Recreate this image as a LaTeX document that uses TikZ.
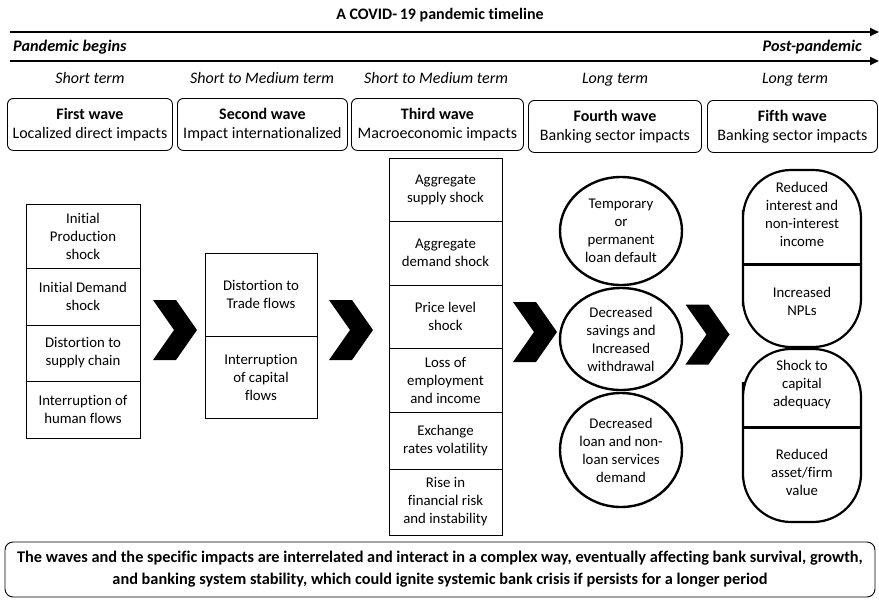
\documentclass[tikz,border=0pt]{standalone}
\usepackage{fontspec}
\setmainfont{Carlito}[RawFeature={-liga;-clig;-calt;-dlig}]
\usetikzlibrary{arrows.meta,shapes.geometric}
\tikzset{
  every node/.style={font=\fontsize{14.8}{18}\selectfont, inner sep=1pt, align=center},
  termlbl/.style={font=\fontsize{16}{19}\selectfont\itshape},
  wavebox/.style={draw, rounded corners=6pt, line width=0.9pt, minimum height=52pt, anchor=north west, inner sep=0pt, font=\fontsize{16}{19}\selectfont},
  cell/.style={draw, line width=0.9pt},
  circ/.style={draw, ellipse, line width=2.4pt, minimum width=122pt, inner sep=0pt},
  tl/.style={line width=1.8pt, -{Triangle[length=9pt,width=8pt]}},
  chevron/.pic={\fill (-22,-30) -- (1,-30) -- (22,0) -- (1,30) -- (-22,30) -- (-1,0) -- cycle;},
  pill/.style={line width=2.2pt, rounded corners=48pt},
  sep/.style={line width=3pt}
}
\begin{document}
\begin{tikzpicture}[x=1pt,y=-1pt]
\useasboundingbox (0,0) rectangle (879,600);
% title and timeline
\node[font=\fontsize{16}{19}\selectfont\bfseries] (title) at (440,15) {A COVID-\,19 pandemic timeline};
\coordinate (a1s) at (10,32); \coordinate (a1e) at (879,32);
\coordinate (a2s) at (10,61); \coordinate (a2e) at (879,61);
\draw[tl] (a1s) -- (a1e);
\draw[tl] (a2s) -- (a2e);
\node[anchor=west, font=\fontsize{16.2}{19}\selectfont\bfseries\itshape] (pb) at (12,47) {Pandemic begins};
\node[anchor=east, font=\fontsize{16.2}{19}\selectfont\bfseries\itshape] (pp) at (863,47) {Post-pandemic};
% terms
\node[termlbl] (t1) at (90,78) {Short term};
\node[termlbl] (t2) at (262,78) {Short to Medium term};
\node[termlbl] (t3) at (436,78) {Short to Medium term};
\node[termlbl] (t4) at (615,80) {Long term};
\node[termlbl] (t5) at (795,80) {Long term};
% wave boxes
\node[wavebox, minimum width=165pt] (w1) at (7,98) {\textbf{First wave}\\Localized direct impacts};
\node[wavebox, minimum width=170pt] (w2) at (177,98) {\textbf{Second wave}\\Impact internationalized};
\node[wavebox, minimum width=172pt] (w3) at (351,98) {\textbf{Third wave}\\Macroeconomic impacts};
\node[wavebox, minimum width=173pt] (w4) at (528,100) {\textbf{Fourth wave}\\Banking sector impacts};
\node[wavebox, minimum width=170pt] (w5) at (707,100) {\textbf{Fifth wave}\\Banking sector impacts};
% column 1
\node[cell, minimum width=114pt, minimum height=64pt] (c11) at (83,236) {Initial\\Production\\shock};
\node[cell, minimum width=114pt, minimum height=57pt] (c12) at (83,296.5) {Initial Demand\\shock};
\node[cell, minimum width=114pt, minimum height=56pt] (c13) at (83,353) {Distortion to\\supply chain};
\node[cell, minimum width=114pt, minimum height=57pt] (c14) at (83,409.5) {Interruption of\\human flows};
% column 2
\node[cell, minimum width=112pt, minimum height=83pt] (c21) at (261,294.5) {Distortion to\\Trade flows};
\node[cell, minimum width=112pt, minimum height=82pt] (c22) at (261,377) {Interruption\\of capital\\flows};
% column 3
\node[cell, minimum width=113pt, minimum height=63pt] (c31) at (445.5,189.5) {Aggregate\\supply shock};
\node[cell, minimum width=113pt, minimum height=64pt] (c32) at (445.5,253) {Aggregate\\demand shock};
\node[cell, minimum width=113pt, minimum height=63pt] (c33) at (445.5,316.5) {Price level\\shock};
\node[cell, minimum width=113pt, minimum height=64pt] (c34) at (445.5,380) {Loss of\\employment\\and income};
\node[cell, minimum width=113pt, minimum height=57pt] (c35) at (445.5,440.5) {Exchange\\rates volatility};
\node[cell, minimum width=113pt, minimum height=66pt] (c36) at (445.5,502) {Rise in\\financial risk\\and instability};
% column 4
\node[circ, minimum height=108pt] (c41) at (621,231) {Temporary\\or\\permanent\\loan default};
\node[circ, minimum height=102pt] (c42) at (621,339) {Decreased\\savings and\\Increased\\withdrawal};
\node[circ, minimum height=114pt] (c43) at (621,450) {Decreased\\loan and non-\\loan services\\demand};
% column 5
\draw[pill] (743,258) -- (743,170) -- (861,170) -- (861,347) -- (743,347) -- cycle;
\draw[sep] (743,264) -- (861,264);
\draw[pill] (743,430) -- (743,349) -- (861,349) -- (861,522) -- (743,522) -- cycle;
\draw[sep] (743,427) -- (861,427);
\node (c51) at (802,214) {Reduced\\interest and\\non-interest\\income};
\node (c52) at (802,301) {Increased\\NPLs};
\node (c53) at (802,385) {Shock to\\capital\\adequacy};
\node (c54) at (802,472) {Reduced\\asset/firm\\value};
% chevrons
\pic at (175,330) {chevron};
\pic at (351,330) {chevron};
\pic at (535,332) {chevron};
\pic at (707.5,334.5) {chevron};
% bottom box
\node[draw, rounded corners=8pt, line width=0.9pt, minimum width=870pt, minimum height=55pt, inner sep=0pt, font=\fontsize{16.3}{22}\selectfont\bfseries] (bot) at (440,569.5) {The waves and the specific impacts are interrelated and interact in a complex way, eventually affecting bank survival, growth,\\and banking system stability, which could ignite systemic bank crisis if persists for a longer period};
\end{tikzpicture}
\end{document}
